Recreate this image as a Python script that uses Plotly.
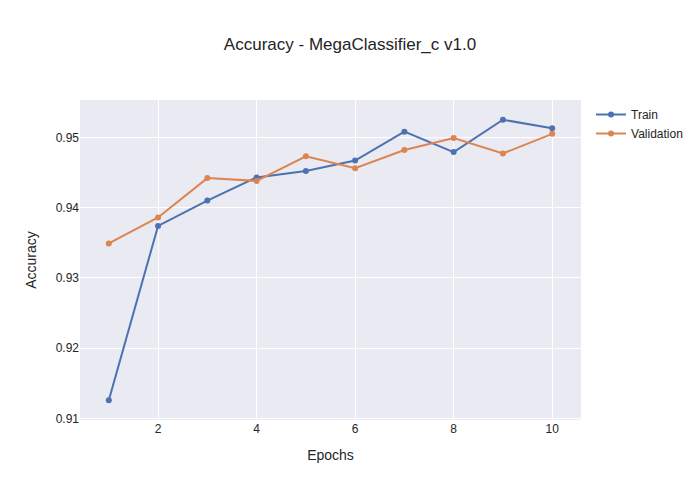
import plotly.graph_objects as go

# Dados
epochs = list(range(1, 11))
train_acc = [0.9126, 0.9374, 0.9410, 0.9443, 0.9452, 0.9467, 0.9508, 0.9479, 0.9525, 0.9513]
val_acc = [0.9349, 0.9386, 0.9442, 0.9438, 0.9473, 0.9456, 0.9482, 0.9499, 0.9477, 0.9505]

fig = go.Figure()
fig.add_trace(go.Scatter(x=epochs, y=train_acc, mode='lines+markers', name='Train'))
fig.add_trace(go.Scatter(x=epochs, y=val_acc, mode='lines+markers', name='Validation'))

fig.update_layout(
    title=dict(text="Accuracy - MegaClassifier_c v1.0", x=0.5),
    xaxis_title="Epochs",
    yaxis_title="Accuracy",
    template="seaborn",
    font=dict(family="Arial, Liberation Sans, sans-serif"),
    width=700,
    height=500,
)

# tira a margem padrão do body para a figura ocupar a janela toda
fig.write_html(
    "out.html",
    config={"displayModeBar": False},
    post_script="document.body.style.margin = '0';",
)
